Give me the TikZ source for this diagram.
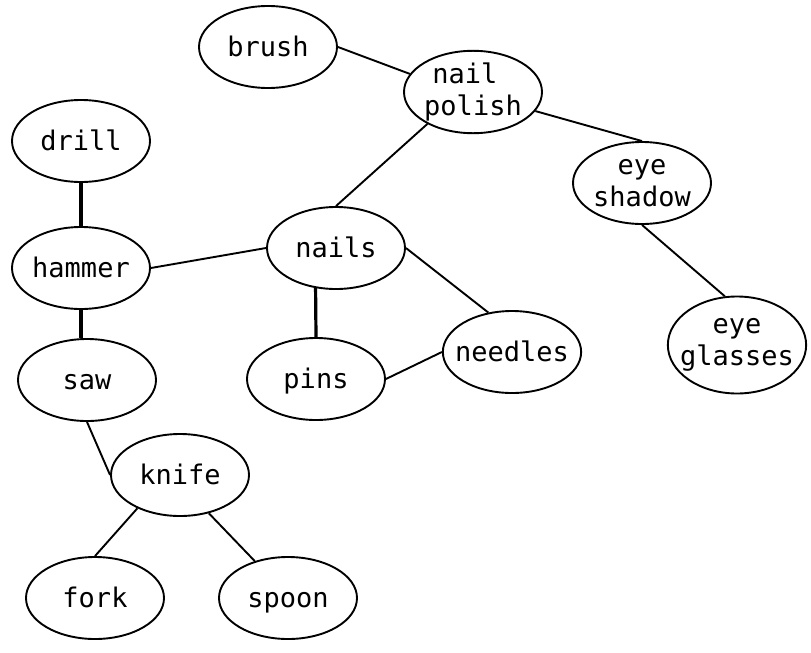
\documentclass[tikz,border=0pt]{standalone}
\usepackage{fontspec}
\setmonofont{DejaVu Sans Mono}
\usetikzlibrary{shapes}
\tikzstyle{obj}=[ellipse, draw, line width=1.9pt, inner sep=0pt,
    minimum width=138pt, minimum height=82pt, align=center,
    font=\ttfamily\fontsize{27}{32}\selectfont]
\tikzstyle{one}=[obj, text height=21pt, text depth=3pt]
\tikzstyle{wide}=[inner xsep=-8pt]
\tikzstyle{e}=[line width=1.9pt]
\tikzstyle{ee}=[line width=3.2pt]

\begin{document}
\begin{tikzpicture}[x=1pt,y=-1pt]
    \useasboundingbox (0,0) rectangle (811,653);
    \node (brush) [one] at (268,47) {brush};
    \node (polish) [obj] at (473,92) {nail\hphantom{l}\\polish};
    \node (drill) [one] at (81,141) {drill};
    \node (hammer) [one] at (81,268) {hammer};
    \node (nails) [one] at (336,248) {nails};
    \node (shadow) [obj] at (642,183) {eye\\shadow};
    \node (saw) [one] at (87,380) {saw};
    \node (pins) [one] at (316,379) {pins};
    \node (needles) [one, wide] at (512,352) {needles};
    \node (glasses) [obj, wide, minimum height=97pt] at (737,345) {eye\\glasses};
    \node (knife) [one] at (180,475) {knife};
    \node (fork) [one] at (95,598) {fork};
    \node (spoon) [one] at (288,598) {spoon};
    % links
    \draw [e] (brush.east) -- (polish.164);
    \draw [e] (polish.343) -- (shadow.north);
    \draw [e] (polish.215) -- (nails.north);
    \draw [ee] (drill.south) -- (hammer.north);
    \draw [e] (hammer.east) -- (nails.west);
    \draw [ee] (hammer.south) -- (saw.north -| hammer.south);
    \draw [ee] (nails.243) -- (pins.north);
    \draw [e] (nails.east) -- (needles.121);
    \draw [e] (pins.east) -- (needles.west);
    \draw [e] (shadow.south) -- (glasses.104);
    \draw [e] (saw.south) -- (knife.west);
    \draw [e] (knife.218) -- (fork.north);
    \draw [e] (knife.307) -- (spoon.132);
\end{tikzpicture}
\end{document}
